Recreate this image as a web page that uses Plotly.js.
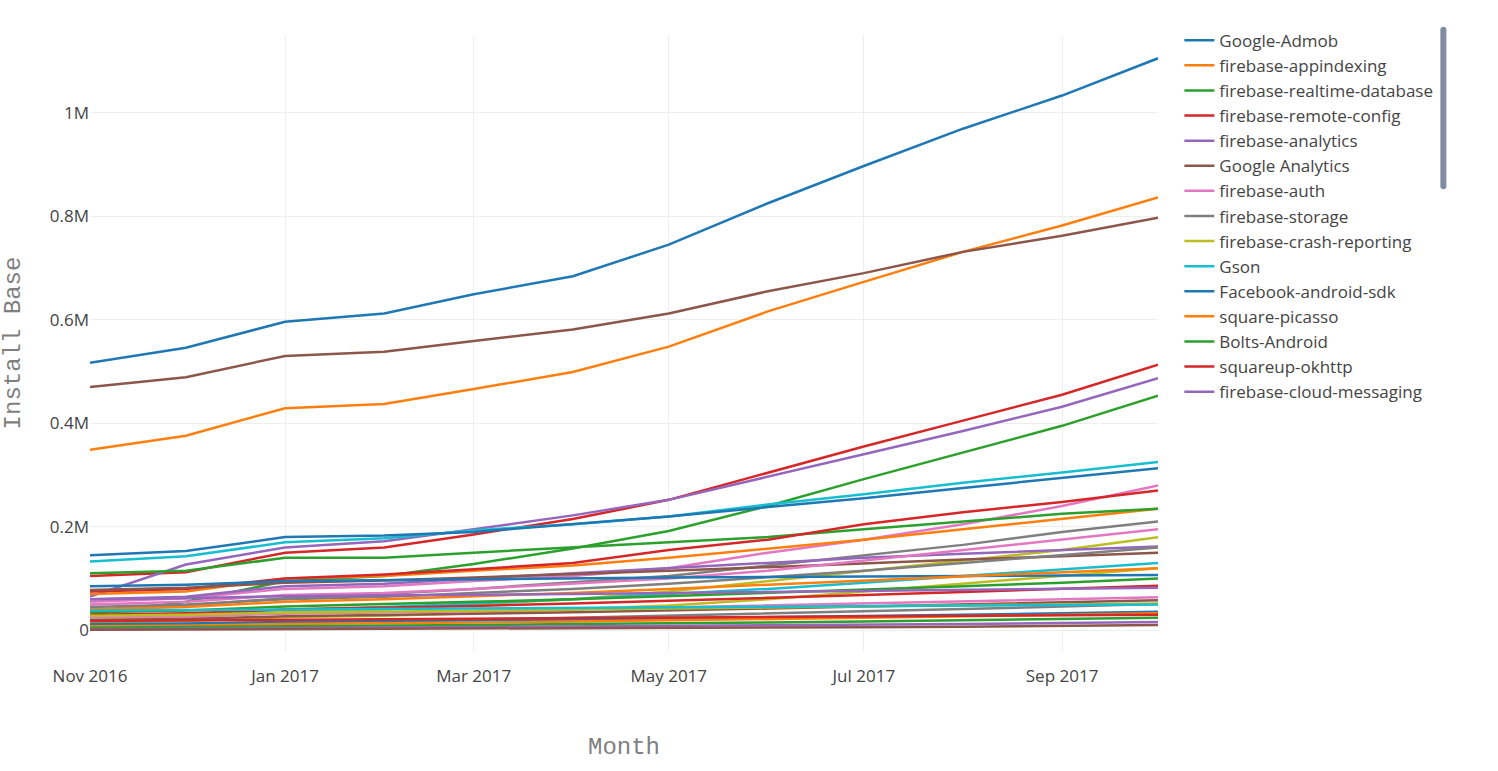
<!DOCTYPE html>
<html>
<head>
<meta charset="utf-8">
<script src="https://cdn.plot.ly/plotly-3.0.1.min.js"></script>
<style>body{margin:0;background:#fff}#plot{width:1498px;height:771px}</style>
</head>
<body>
<div id="plot"></div>
<script>
const months = ["2016-11-01","2016-12-01","2017-01-01","2017-02-01","2017-03-01","2017-04-01",
  "2017-05-01","2017-06-01","2017-07-01","2017-08-01","2017-09-01","2017-10-01"];

// install base per library, one row per month above
const seriesNames = [
  "Google-Admob","firebase-appindexing","firebase-realtime-database","firebase-remote-config",
  "firebase-analytics","Google Analytics","firebase-auth","firebase-storage","firebase-crash-reporting",
  "Gson","Facebook-android-sdk","square-picasso","Bolts-Android","squareup-okhttp",
  "firebase-cloud-messaging","square-retrofit","square-okio","Zxing","Glide",
  "facebook-audiencenetwork","Cordova","Fabric","Crashlytics","Butterknife","Unity3d",
  "greenDAO","EventBus","RxJava","Volley","Universal-Image-Loader","Jackson","Dagger",
  "Realm","Apache-Commons","OneSignal","Branch"
];
const seriesValues = [
  [517000,546000,596000,612000,649000,684000,745000,825000,897000,969000,1033000,1105000],
  [349000,376000,429000,437000,466000,499000,548000,616000,673000,731000,782000,836000],
  [30000,55000,95000,105000,128000,158000,192000,240000,292000,343000,395000,453000],
  [105000,112000,150000,160000,185000,215000,252000,305000,355000,405000,455000,513000],
  [65000,127000,160000,172000,195000,222000,252000,296000,340000,385000,432000,487000],
  [470000,489000,530000,538000,559000,581000,612000,655000,690000,731000,762000,797000],
  [55000,62000,80000,85000,95000,105000,120000,150000,175000,205000,240000,280000],
  [40000,48000,62000,70000,80000,92000,105000,125000,145000,165000,190000,210000],
  [20000,25000,35000,40000,50000,60000,75000,95000,115000,135000,155000,180000],
  [133000,143000,170000,178000,193000,205000,220000,243000,263000,285000,305000,325000],
  [145000,153000,180000,183000,190000,205000,220000,238000,255000,275000,295000,313000],
  [70000,75000,100000,105000,115000,125000,140000,158000,175000,195000,215000,235000],
  [110000,115000,140000,140000,150000,160000,170000,180000,195000,210000,225000,235000],
  [75000,80000,100000,108000,118000,130000,155000,175000,205000,228000,248000,270000],
  [60000,65000,85000,90000,100000,110000,120000,130000,140000,148000,155000,162000],
  [78000,82000,92000,96000,102000,108000,115000,122000,130000,137000,143000,150000],
  [50000,55000,68000,72000,80000,90000,100000,115000,135000,155000,175000,195000],
  [45000,50000,60000,65000,72000,80000,90000,102000,115000,130000,145000,160000],
  [15000,18000,25000,28000,33000,40000,48000,60000,75000,90000,105000,120000],
  [25000,30000,40000,45000,52000,60000,70000,80000,92000,105000,118000,130000],
  [85000,88000,95000,97000,99000,100000,102000,103000,104000,105000,106000,107000],
  [40000,45000,55000,60000,66000,72000,80000,88000,96000,104000,112000,120000],
  [35000,38000,46000,50000,55000,60000,66000,72000,78000,85000,92000,100000],
  [30000,33000,40000,43000,47000,52000,57000,62000,68000,74000,80000,86000],
  [60000,62000,66000,67000,68000,70000,72000,74000,76000,78000,80000,82000],
  [20000,22000,27000,29000,32000,35000,38000,42000,46000,50000,54000,58000],
  [25000,27000,32000,34000,37000,40000,44000,48000,52000,56000,60000,64000],
  [10000,12000,16000,18000,21000,24000,28000,32000,36000,41000,46000,51000],
  [28000,30000,34000,36000,38000,40000,42000,44000,46000,48000,50000,52000],
  [38000,39000,41000,42000,43000,44000,45000,46000,47000,48000,49000,50000],
  [12000,13000,16000,17000,19000,21000,23000,25000,27000,30000,33000,36000],
  [8000,9000,12000,13000,15000,17000,19000,21000,24000,27000,30000,33000],
  [5000,6000,8000,9000,10000,12000,13000,15000,17000,19000,21000,24000],
  [18000,19000,21000,22000,23000,24000,25000,26000,27000,28000,29000,30000],
  [2000,3000,4000,5000,6000,7000,8000,9000,10000,12000,14000,16000],
  [1000,1500,2000,2500,3000,3500,4000,5000,6000,7000,8000,10000]
];

const traces = seriesNames.map((name, i) => ({
  x: months, y: seriesValues[i], name: name,
  type: "scatter", mode: "lines", line: {width: 2.5}
}));

const layout = {
  width: 1498, height: 771,
  margin: {l: 90, r: 340, t: 35, b: 120},
  font: {family: "Open Sans, sans-serif", size: 17, color: "#444"},
  xaxis: {
    title: {text: "Month", font: {family: "Liberation Mono, monospace", size: 24, color: "#7f7f7f"}, standoff: 50},
    range: ["2016-11-01", "2017-10-01"], gridcolor: "#eee", zeroline: false,
    dtick: "M2", tickformat: "%b %Y", ticks: "outside", ticklen: 10, tickcolor: "#fff"
  },
  yaxis: {
    title: {text: "Install Base", font: {family: "Liberation Mono, monospace", size: 24, color: "#7f7f7f"}, standoff: 30},
    range: [-40000, 1150000], gridcolor: "#eee", zeroline: false,
    tickvals: [0, 200000, 400000, 600000, 800000, 1000000],
    ticktext: ["0", "0.2M", "0.4M", "0.6M", "0.8M", "1M"]
  },
  legend: {x: 1.02, y: 1.02, font: {size: 17}},
  showlegend: true
};

Plotly.newPlot("plot", traces, layout, {displayModeBar: false});
</script>
</body>
</html>
